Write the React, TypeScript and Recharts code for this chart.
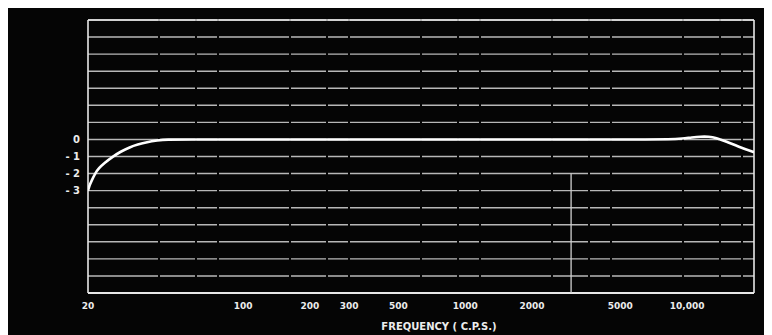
import React from "react";
import {
  LineChart,
  Line,
  XAxis,
  YAxis,
  CartesianGrid,
  ReferenceLine,
} from "recharts";

// Frequency response (cps) vs relative level (dB)
const frequencies = [
  20, 20.3, 20.8, 21.5, 22.4, 23.6, 25.9, 28, 30.9, 33.4, 36.9, 41, 45.4, 55,
  100, 300, 1000, 3000, 6000, 8500, 9500, 10500, 11500, 12500, 13500, 15000,
  17000, 20000,
];
const levels = [
  -3.0, -2.7, -2.4, -2.0, -1.68, -1.4, -1.0, -0.72, -0.45, -0.3, -0.15, -0.06,
  0, 0, 0, 0, 0, 0, 0, 0, 0.05, 0.12, 0.17, 0.17, 0.1, -0.12, -0.42, -0.75,
];

const xTicks = [20, 100, 200, 300, 500, 1000, 2000, 5000, 10000];
const xTickLabels = ["20", "100", "200", "300", "500", "1000", "2000", "5000", "10,000"];
const yTicks = [7, 6, 5, 4, 3, 2, 1, 0, -1, -2, -3, -4, -5, -6, -7, -8, -9];
const yTickLabels: Record<string, string> = { "0": "0", "-1": "- 1", "-2": "- 2", "-3": "- 3" };
const axisTitle = "FREQUENCY ( C.P.S.)";

const data = frequencies.map((f, i) => ({ f, db: levels[i] }));

const FG = "#ececec";
const FONT = "'DejaVu Sans', sans-serif";

export default function App() {
  return (
    <div
      style={{
        marginLeft: -3,
        marginTop: -1,
        width: 767,
        height: 328,
        background: "#050505",
      }}
    >
      <LineChart
        width={767}
        height={328}
        data={data}
        margin={{ top: 13, right: 18, left: 23, bottom: 12 }}
      >
        <CartesianGrid
          horizontal={true}
          vertical={false}
          stroke="#b8b8b8"
          strokeWidth={1.4}
          strokeDasharray="70 2 35 2 20 2"
        />
        <XAxis
          dataKey="f"
          type="number"
          scale="log"
          domain={[20, 20000]}
          ticks={xTicks}
          allowDataOverflow
          axisLine={false}
          tickLine={false}
          height={30}
          tickFormatter={(v: number) => xTickLabels[xTicks.indexOf(v)] ?? ""}
          tick={{ fill: FG, fontSize: 9, fontWeight: "bold", fontFamily: FONT }}
          tickMargin={4}
          label={(props: any) => {
            const vb = props.viewBox || {};
            return (
              <text
                x={vb.x + vb.width / 2 + 18}
                y={vb.y + 37}
                textAnchor="middle"
                fill={FG}
                fontSize={10}
                fontWeight="bold"
                fontFamily={FONT}
              >
                {axisTitle}
              </text>
            );
          }}
        />
        <YAxis
          type="number"
          domain={[-9, 7]}
          ticks={yTicks}
          interval={0}
          width={60}
          axisLine={false}
          tickLine={false}
          tickFormatter={(v: number) => yTickLabels[String(v)] ?? ""}
          tick={{ fill: FG, fontSize: 10, fontWeight: "bold", fontFamily: FONT }}
        />
        <ReferenceLine x={20} stroke="#e8e8e8" strokeWidth={1.6} />
        <ReferenceLine x={20000} stroke="#e8e8e8" strokeWidth={1.6} />
        <ReferenceLine y={7} stroke="#e8e8e8" strokeWidth={1.6} />
        <ReferenceLine y={-9} stroke="#e8e8e8" strokeWidth={1.8} />
        <ReferenceLine
          segment={[
            { x: 3000, y: -2 },
            { x: 3000, y: -9 },
          ]}
          stroke="#d0d0d0"
          strokeWidth={1.3}
        />
        <Line
          type="basis"
          dataKey="db"
          stroke="#ffffff"
          strokeWidth={2.6}
          dot={false}
          isAnimationActive={false}
        />
      </LineChart>
    </div>
  );
}
